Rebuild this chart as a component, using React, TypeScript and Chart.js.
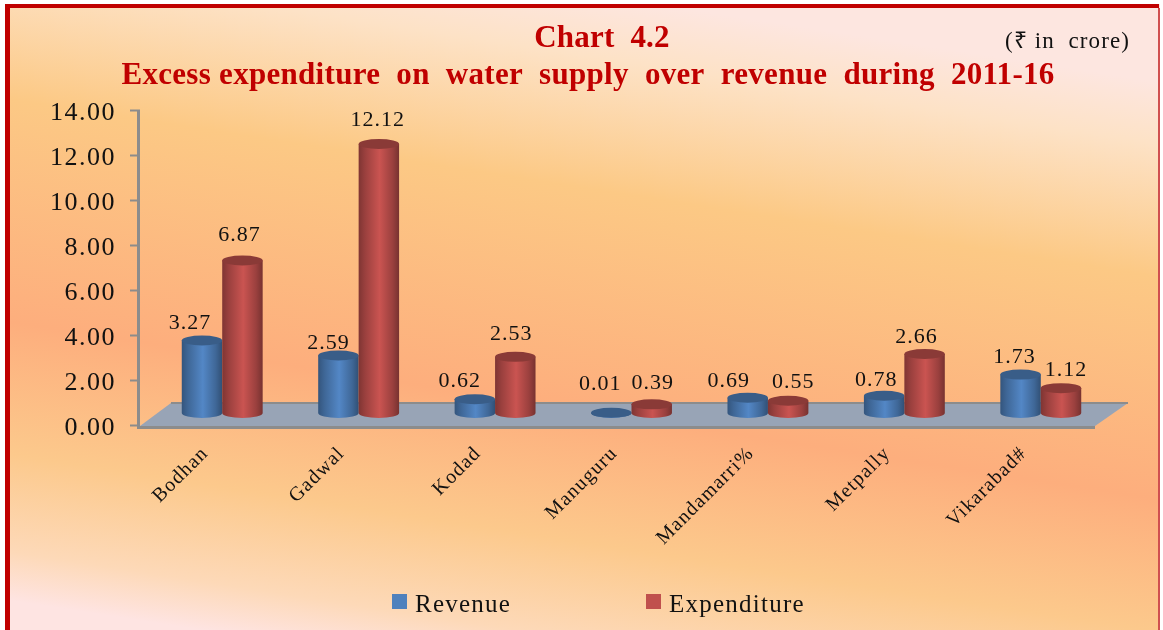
import React, { useEffect, useRef } from "react";
import { Chart, registerables } from "chart.js";

Chart.register(...registerables);

const categories = ["Bodhan", "Gadwal", "Kodad", "Manuguru", "Mandamarri%", "Metpally", "Vikarabad#"];
const revenue = [3.27, 2.59, 0.62, 0.01, 0.69, 0.78, 1.73];
const expenditure = [6.87, 12.12, 2.53, 0.39, 0.55, 2.66, 1.12];
const titleLine1 = "Chart  4.2";
const titleLine2 = "Excess expenditure  on  water  supply  over  revenue  during  2011-16";
const unitNote = "(₹ in  crore)";

// hand-placed data label nudges, relative to each cylinder top
const labelDx = [
  [-12, -10, -15, -11, -19, -8, -6],
  [-3, -1, -4, 1, 5, -8, 5],
];
const labelDy = [
  [-11, -6.5, -12, -23, -11, -10, -12],
  [-20, -18, -17, -15, -13, -11, -12],
];

const SERIF = "'Liberation Serif', 'Times New Roman', serif";
const AXIS_GREY = "#8c8c8c";

function shade(hex: string, f: number) {
  const n = parseInt(hex.slice(1), 16);
  const c = [(n >> 16) & 255, (n >> 8) & 255, n & 255].map((v) => Math.min(255, Math.round(v * f)));
  return `rgb(${c[0]},${c[1]},${c[2]})`;
}

const cylinderPlugin = {
  id: "cylinders",
  beforeDraw(chart: any) {
    const { ctx, width, height } = chart;
    ctx.save();
    ctx.fillStyle = "#ffffff";
    ctx.fillRect(0, 0, width, height);
    const g = ctx.createLinearGradient(630, 0, 525, 680);
    g.addColorStop(0, "#fde6e0");
    g.addColorStop(0.09, "#fde2c6");
    g.addColorStop(0.28, "#fcc985");
    g.addColorStop(0.6, "#fdae7d");
    g.addColorStop(0.79, "#fcc98c");
    g.addColorStop(0.93, "#fdd9b8");
    g.addColorStop(1, "#fee4e2");
    ctx.fillStyle = g;
    ctx.fillRect(5, 4, 1155, height - 4);
    ctx.fillStyle = "#c00000";
    ctx.fillRect(5, 4, 1154, 4);
    ctx.fillRect(5, 4, 5, height - 4);
    ctx.fillStyle = "#d05050";
    ctx.fillRect(1158, 8, 2, height - 8);
    ctx.restore();
    ctx.letterSpacing = "1.5px";
    // value-axis labels sit slightly below their ticks in the reference
    const items = chart.scales.y.getLabelItems();
    if (!chart.$nudged) {
      items.forEach((it: any) => { it.options.translation[1] += 3; });
      chart.$nudged = true;
    }
  },
  beforeDatasetsDraw(chart: any) {
    const { ctx, chartArea } = chart;
    const y0 = chartArea.bottom;
    const { left, right, top } = chartArea;
    ctx.save();
    ctx.fillStyle = "#98a4b6";
    ctx.beginPath();
    ctx.moveTo(left, y0 + 1);
    ctx.lineTo(left + 31, y0 - 22);
    ctx.lineTo(right + 33, y0 - 22);
    ctx.lineTo(right, y0 + 1);
    ctx.closePath();
    ctx.fill();
    ctx.strokeStyle = AXIS_GREY;
    ctx.lineWidth = 2;
    ctx.beginPath();
    ctx.moveTo(left + 31, y0 - 22);
    ctx.lineTo(right + 33, y0 - 22);
    ctx.stroke();
    ctx.fillStyle = AXIS_GREY;
    ctx.fillRect(left - 3, y0 + 1, right - left + 3, 3);
    ctx.fillRect(left - 3, top, 3, y0 - top + 4);
    ctx.restore();
  },
  beforeDatasetDraw() {
    return false;
  },
  afterDatasetsDraw(chart: any) {
    const { ctx } = chart;
    const DX = 14;
    const RY = 5;
    ctx.save();
    for (let i = 0; i < categories.length; i++) {
      for (let d = 0; d < chart.data.datasets.length; d++) {
        const ds = chart.data.datasets[d];
        const el = chart.getDatasetMeta(d).data[i];
        const color = ds.backgroundColor as string;
        const cx = el.x + DX;
        const rx = el.width / 2;
        const top = el.y;
        const base = el.base;
        const g = ctx.createLinearGradient(cx - rx, 0, cx + rx, 0);
        g.addColorStop(0, shade(color, 0.66));
        g.addColorStop(0.16, shade(color, 0.8));
        g.addColorStop(0.52, shade(color, 1.05));
        g.addColorStop(0.84, shade(color, 0.8));
        g.addColorStop(1, shade(color, 0.62));
        ctx.fillStyle = g;
        ctx.beginPath();
        ctx.moveTo(cx - rx, top);
        ctx.lineTo(cx - rx, base);
        ctx.ellipse(cx, base, rx, RY, 0, Math.PI, 0, true);
        ctx.lineTo(cx + rx, top);
        ctx.closePath();
        ctx.fill();
        ctx.fillStyle = shade(color, 0.72);
        ctx.beginPath();
        ctx.ellipse(cx, top, rx, RY, 0, 0, Math.PI * 2);
        ctx.fill();
      }
    }
    ctx.fillStyle = "#111";
    ctx.font = `22px ${SERIF}`;
    ctx.textAlign = "center";
    ctx.textBaseline = "alphabetic";
    ctx.letterSpacing = "1px";
    for (let i = 0; i < categories.length; i++) {
      chart.data.datasets.forEach((ds: any, d: number) => {
        const el = chart.getDatasetMeta(d).data[i];
        ctx.fillText(ds.data[i].toFixed(2), el.x + DX + labelDx[d][i], el.y + labelDy[d][i]);
      });
    }
    ctx.restore();
    ctx.letterSpacing = "1.2px";
  },
  afterDraw(chart: any) {
    const { ctx } = chart;
    ctx.save();
    ctx.textAlign = "center";
    ctx.textBaseline = "alphabetic";
    ctx.fillStyle = "#c00000";
    ctx.font = `bold 31px ${SERIF}`;
    ctx.letterSpacing = "0.2px";
    ctx.fillText(titleLine1, 602, 47);
    ctx.letterSpacing = "0.3px";
    ctx.fillText(titleLine2, 588, 84);
    ctx.fillStyle = "#111";
    ctx.font = `23px ${SERIF}`;
    ctx.letterSpacing = "1.1px";
    ctx.textAlign = "right";
    ctx.fillText(unitNote, 1130, 48);

    // legend
    ctx.textAlign = "left";
    ctx.font = `25px ${SERIF}`;
    ctx.letterSpacing = "1.25px";
    const legendX = [392, 646];
    chart.data.datasets.forEach((ds: any, d: number) => {
      ctx.fillStyle = ds.backgroundColor;
      ctx.fillRect(legendX[d], 594, 15, 15);
      ctx.fillStyle = "#111";
      ctx.fillText(ds.label, legendX[d] + 23, 612);
    });
    ctx.restore();
  },
};

export default function App() {
  const ref = useRef<HTMLCanvasElement>(null);
  useEffect(() => {
    document.body.style.margin = "0";
    const chart = new Chart(ref.current!, {
      type: "bar",
      data: {
        labels: categories,
        datasets: [
          { label: "Revenue", data: revenue, backgroundColor: "#4f81bd", yAxisID: "y2", barPercentage: 1, categoryPercentage: 0.593 },
          { label: "Expenditure", data: expenditure, backgroundColor: "#c0504d", yAxisID: "y2", barPercentage: 1, categoryPercentage: 0.593 },
        ],
      },
      options: {
        responsive: false,
        animation: false,
        layout: { padding: { left: 40, right: 68, top: 110, bottom: 0 } },
        plugins: {
          title: { display: false },
          tooltip: { enabled: false },
          legend: { display: false },
        },
        scales: {
          x: {
            afterFit(s: any) { s.height = 205; },
            grid: { display: false, drawTicks: false },
            border: { display: false },
            ticks: {
              color: "#111",
              font: { family: SERIF, size: 20 },
              maxRotation: 45,
              minRotation: 45,
              padding: 17,
              labelOffset: -3,
              z: 1,
              autoSkip: false,
            },
          },
          y: {
            position: "left",
            min: 0,
            max: 14,
            afterFit(s: any) { s.width = 100; },
            grid: { display: true, drawOnChartArea: false, drawTicks: true, tickLength: 10, tickColor: AXIS_GREY, tickWidth: 2 },
            border: { display: false },
            ticks: {
              stepSize: 2,
              color: "#111",
              font: { family: SERIF, size: 26 },
              padding: 14,
              callback: (v: any) => Number(v).toFixed(2),
            },
          },
          y2: {
            display: false,
            min: -0.54,
            max: 13.65,
          },
        },
      },
      plugins: [cylinderPlugin],
    } as any);
    return () => chart.destroy();
  }, []);
  return <canvas ref={ref} width={1163} height={630} style={{ display: "block" }} />;
}
